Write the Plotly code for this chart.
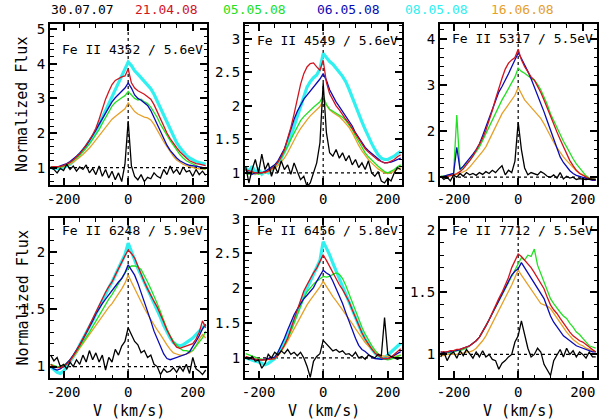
import plotly.graph_objects as go
from plotly.subplots import make_subplots

# velocity grid (km/s), same for every panel
V = list(range(-240, 250, 10))

DATES = ["30.07.07", "21.04.08", "05.05.08", "06.05.08", "08.05.08", "16.06.08"]
DATE_COLORS = ["#000000", "#d2141e", "#22e022", "#0a0ab4", "#30f0f0", "#e6a028"]
LABELS = ["Fe II 4352 / 5.6eV", "Fe II 4549 / 5.6eV", "Fe II 5317 / 5.5eV",
          "Fe II 6248 / 5.9eV", "Fe II 6456 / 5.8eV", "Fe II 7712 / 5.5eV"]
YRANGES = [[0.5, 5.15], [0.82, 3.22], [0.83, 4.33], [0.9, 2.3], [0.71, 3.01], [0.81, 2.1]]
YDTICK = [1, 0.5, 1, 0.5, 0.5, 0.5]
YMINOR = [0.2, 0.1, 0.2, 0.1, 0.1, 0.1]
XTICKS = [-200, 0, 200]
XTICK_TEXT = ["-200", "0", "200"]

# ---- Fe II 4352
p1_cyan = [1.00, 0.98, 0.97, 0.98, 1.00, 1.05, 1.10, 1.18, 1.28, 1.38,
           1.50, 1.62, 1.75, 1.90, 2.05, 2.25, 2.45, 2.65, 2.85, 3.05,
           3.25, 3.45, 3.60, 3.80, 4.05, 3.95, 3.80, 3.70, 3.60, 3.50,
           3.38, 3.28, 3.12, 2.92, 2.70, 2.50, 2.30, 2.10, 1.90, 1.72,
           1.58, 1.45, 1.35, 1.28, 1.22, 1.18, 1.15, 1.12, 1.10]
p1_red = [1.02, 1.02, 1.03, 1.04, 1.06, 1.10, 1.15, 1.22, 1.30, 1.40,
          1.52, 1.65, 1.80, 1.95, 2.14, 2.40, 2.70, 2.98, 3.20, 3.40,
          3.52, 3.58, 3.62, 3.65, 3.85, 3.45, 3.30, 3.22, 3.18, 3.12,
          3.05, 2.98, 2.82, 2.62, 2.40, 2.18, 2.00, 1.84, 1.70, 1.58,
          1.46, 1.36, 1.28, 1.20, 1.15, 1.12, 1.10, 1.08, 1.06]
p1_blue = [1.00, 1.00, 1.02, 1.05, 1.08, 1.12, 1.18, 1.25, 1.33, 1.42,
           1.52, 1.64, 1.78, 1.92, 2.08, 2.25, 2.42, 2.58, 2.75, 2.90,
           3.02, 3.12, 3.20, 3.30, 3.45, 3.30, 3.10, 3.00, 2.95, 2.88,
           2.80, 2.65, 2.45, 2.25, 2.02, 1.82, 1.65, 1.50, 1.38, 1.28,
           1.20, 1.14, 1.10, 1.07, 1.05, 1.03, 1.02, 1.01, 1.00]
p1_green = [1.02, 1.00, 1.00, 1.02, 1.05, 1.08, 1.14, 1.20, 1.28, 1.36,
            1.46, 1.56, 1.68, 1.82, 1.95, 2.10, 2.28, 2.45, 2.62, 2.78,
            2.88, 2.96, 3.02, 3.08, 3.20, 3.10, 3.00, 2.95, 2.98, 2.90,
            2.85, 2.75, 2.60, 2.45, 2.25, 2.08, 1.92, 1.78, 1.65, 1.50,
            1.38, 1.28, 1.20, 1.15, 1.10, 1.05, 1.02, 0.98, 0.96]
p1_orange = [1.00, 1.00, 1.00, 1.01, 1.03, 1.06, 1.10, 1.16, 1.22, 1.30,
             1.38, 1.47, 1.57, 1.68, 1.80, 1.92, 2.05, 2.18, 2.30, 2.40,
             2.48, 2.55, 2.62, 2.70, 2.87, 2.75, 2.62, 2.55, 2.50, 2.46,
             2.44, 2.38, 2.25, 2.10, 1.92, 1.75, 1.60, 1.45, 1.33, 1.22,
             1.15, 1.10, 1.06, 1.03, 1.00, 0.98, 0.97, 0.97, 0.96]
p1_black = [1.00, 0.95, 0.85, 0.98, 0.92, 1.10, 0.95, 1.05, 0.90, 1.02,
            0.95, 1.08, 0.85, 0.98, 0.80, 1.05, 0.75, 0.95, 0.70, 0.90,
            0.65, 0.85, 0.60, 1.10, 2.35, 1.05, 0.75, 0.65, 0.80, 0.60,
            0.72, 0.68, 0.85, 0.75, 0.70, 0.95, 0.80, 1.05, 0.85, 0.95,
            0.80, 1.02, 0.88, 0.92, 0.75, 0.95, 0.80, 0.90, 0.78]

# ---- Fe II 4549
p2_cyan = [1.08, 1.02, 1.10, 1.00, 1.05, 0.98, 1.02, 1.00, 1.05, 1.10,
           1.15, 1.22, 1.32, 1.42, 1.55, 1.70, 1.85, 2.00, 2.15, 2.28,
           2.36, 2.42, 2.46, 2.55, 2.78, 2.72, 2.66, 2.62, 2.55, 2.50,
           2.44, 2.36, 2.25, 2.12, 1.99, 1.88, 1.76, 1.65, 1.54, 1.44,
           1.35, 1.27, 1.22, 1.20, 1.20, 1.22, 1.25, 1.29, 1.32]
p2_red = [1.05, 1.03, 1.02, 1.00, 1.00, 1.00, 1.01, 1.03, 1.06, 1.10,
          1.16, 1.24, 1.35, 1.50, 1.68, 1.88, 2.10, 2.32, 2.48, 2.58,
          2.63, 2.64, 2.58, 2.53, 2.68, 2.35, 2.18, 2.08, 2.00, 1.94,
          1.86, 1.80, 1.74, 1.66, 1.58, 1.50, 1.43, 1.36, 1.31, 1.27,
          1.22, 1.19, 1.17, 1.15, 1.15, 1.17, 1.20, 1.24, 1.27]
p2_blue = [1.05, 1.00, 0.98, 1.00, 1.00, 1.00, 1.02, 1.05, 1.08, 1.12,
           1.18, 1.26, 1.36, 1.50, 1.66, 1.80, 1.92, 2.02, 2.10, 2.16,
           2.22, 2.28, 2.34, 2.40, 2.48, 2.38, 2.24, 2.14, 2.06, 1.99,
           1.92, 1.85, 1.78, 1.70, 1.60, 1.52, 1.44, 1.38, 1.33, 1.29,
           1.24, 1.20, 1.17, 1.15, 1.15, 1.16, 1.18, 1.20, 1.22]
p2_green = [1.00, 0.98, 1.00, 1.00, 0.98, 1.00, 1.02, 1.04, 1.08, 1.12,
            1.16, 1.22, 1.30, 1.40, 1.50, 1.60, 1.70, 1.78, 1.84, 1.89,
            1.94, 1.98, 2.02, 2.06, 2.15, 2.02, 1.95, 1.92, 1.90, 1.87,
            1.83, 1.78, 1.72, 1.65, 1.55, 1.46, 1.38, 1.30, 1.24, 1.19,
            1.14, 1.10, 1.06, 1.02, 1.00, 1.02, 1.05, 1.09, 1.12]
p2_orange = [1.02, 1.00, 1.00, 0.98, 1.00, 1.00, 1.00, 1.02, 1.04, 1.07,
             1.11, 1.16, 1.22, 1.30, 1.40, 1.50, 1.58, 1.66, 1.73, 1.79,
             1.85, 1.90, 1.95, 1.99, 2.08, 2.00, 1.94, 1.90, 1.87, 1.84,
             1.79, 1.74, 1.68, 1.60, 1.50, 1.41, 1.33, 1.26, 1.20, 1.15,
             1.10, 1.06, 1.03, 1.00, 0.99, 1.00, 1.03, 1.06, 1.08]
p2_black = [1.10, 0.85, 1.05, 1.20, 1.00, 1.28, 1.05, 1.15, 0.95, 1.10,
            1.00, 1.18, 1.05, 1.12, 0.98, 1.15, 1.02, 0.90, 0.95, 0.80,
            0.85, 1.00, 1.15, 1.45, 2.34, 1.60, 1.30, 1.25, 1.35, 1.22,
            1.30, 1.18, 1.26, 1.12, 1.20, 1.08, 1.15, 1.05, 1.18, 1.00,
            0.95, 1.02, 0.88, 0.85, 0.92, 0.88, 1.00, 1.08, 1.05]

# ---- Fe II 5317 (no 08.05.08 spectrum)
p3_red = [1.00, 1.00, 1.02, 1.03, 1.05, 1.08, 1.12, 1.18, 1.26, 1.36,
          1.46, 1.58, 1.70, 1.85, 2.02, 2.22, 2.45, 2.70, 2.95, 3.15,
          3.35, 3.48, 3.55, 3.60, 3.78, 3.55, 3.40, 3.28, 3.18, 3.11,
          2.98, 2.84, 2.68, 2.50, 2.31, 2.14, 1.98, 1.82, 1.66, 1.51,
          1.36, 1.25, 1.15, 1.08, 1.04, 1.00, 0.97, 0.95, 0.95]
p3_blue = [1.00, 1.02, 1.04, 1.06, 1.08, 1.65, 1.17, 1.24, 1.32, 1.40,
           1.50, 1.60, 1.72, 1.90, 2.09, 2.28, 2.48, 2.68, 2.85, 2.97,
           3.10, 3.25, 3.40, 3.55, 3.70, 3.58, 3.45, 3.30, 3.14, 2.97,
           2.80, 2.62, 2.42, 2.22, 2.02, 1.80, 1.60, 1.44, 1.32, 1.22,
           1.14, 1.08, 1.04, 1.02, 1.00, 0.97, 0.95, 0.93, 0.93]
p3_green = [1.02, 1.02, 1.04, 1.05, 1.08, 2.35, 1.15, 1.22, 1.28, 1.36,
            1.45, 1.55, 1.66, 1.80, 1.95, 2.10, 2.25, 2.40, 2.54, 2.68,
            2.80, 2.92, 3.04, 3.18, 3.37, 3.30, 3.26, 3.20, 3.15, 3.11,
            3.02, 2.90, 2.75, 2.58, 2.38, 2.22, 2.06, 1.92, 1.78, 1.66,
            1.52, 1.40, 1.29, 1.20, 1.11, 1.03, 0.98, 0.95, 0.95]
p3_orange = [1.00, 1.00, 1.02, 1.03, 1.05, 1.06, 1.08, 1.11, 1.15, 1.22,
             1.30, 1.38, 1.46, 1.56, 1.66, 1.80, 1.95, 2.10, 2.25, 2.38,
             2.48, 2.58, 2.68, 2.78, 2.95, 2.80, 2.68, 2.60, 2.52, 2.46,
             2.38, 2.28, 2.16, 2.02, 1.87, 1.76, 1.64, 1.53, 1.44, 1.36,
             1.28, 1.21, 1.14, 1.09, 1.05, 1.01, 0.98, 0.95, 0.95]
p3_black = [1.02, 0.95, 1.00, 0.92, 1.05, 1.00, 1.08, 1.02, 1.10, 1.05,
            1.08, 1.04, 1.10, 1.06, 1.12, 1.08, 1.15, 1.10, 1.18, 1.25,
            1.05, 1.15, 1.10, 1.35, 2.20, 1.60, 1.20, 1.05, 1.10, 1.08,
            1.05, 1.12, 1.08, 1.02, 1.00, 1.05, 0.98, 1.10, 0.96, 1.02,
            0.98, 1.00, 0.95, 0.97, 0.96, 0.95, 0.96, 0.95, 0.95]

# ---- Fe II 6248
p4_cyan = [1.00, 0.97, 0.95, 0.94, 0.96, 1.00, 1.04, 1.08, 1.13, 1.19,
           1.24, 1.29, 1.35, 1.40, 1.46, 1.52, 1.58, 1.64, 1.69, 1.74,
           1.80, 1.86, 1.92, 1.98, 2.08, 2.00, 1.92, 1.86, 1.80, 1.74,
           1.68, 1.62, 1.56, 1.50, 1.43, 1.36, 1.30, 1.25, 1.21, 1.19,
           1.18, 1.19, 1.21, 1.23, 1.25, 1.28, 1.31, 1.35, 1.37]
p4_red = [1.02, 1.00, 0.99, 0.99, 1.00, 1.02, 1.05, 1.09, 1.14, 1.19,
          1.24, 1.30, 1.36, 1.42, 1.48, 1.54, 1.60, 1.65, 1.70, 1.74,
          1.80, 1.86, 1.92, 1.97, 2.02, 1.99, 1.95, 1.88, 1.80, 1.74,
          1.68, 1.62, 1.57, 1.52, 1.46, 1.39, 1.32, 1.26, 1.21, 1.17,
          1.16, 1.17, 1.18, 1.19, 1.20, 1.24, 1.30, 1.40, 1.34]
p4_green = [1.02, 1.01, 1.00, 1.00, 1.01, 1.03, 1.06, 1.09, 1.13, 1.17,
            1.21, 1.25, 1.30, 1.35, 1.40, 1.45, 1.50, 1.55, 1.59, 1.63,
            1.68, 1.72, 1.77, 1.82, 1.86, 1.88, 1.88, 1.87, 1.85, 1.80,
            1.74, 1.68, 1.62, 1.55, 1.48, 1.40, 1.33, 1.27, 1.22, 1.19,
            1.16, 1.14, 1.14, 1.13, 1.14, 1.18, 1.22, 1.25, 1.31]
p4_blue = [1.00, 0.98, 0.97, 0.98, 1.00, 1.03, 1.06, 1.10, 1.14, 1.19,
           1.24, 1.29, 1.34, 1.40, 1.46, 1.51, 1.55, 1.59, 1.63, 1.66,
           1.70, 1.74, 1.77, 1.82, 1.89, 1.84, 1.80, 1.73, 1.65, 1.57,
           1.48, 1.40, 1.31, 1.24, 1.17, 1.11, 1.07, 1.06, 1.07, 1.08,
           1.09, 1.10, 1.11, 1.13, 1.17, 1.22, 1.27, 1.33, 1.37]
p4_orange = [1.01, 1.00, 1.00, 1.00, 1.01, 1.03, 1.05, 1.08, 1.12, 1.17,
             1.21, 1.25, 1.29, 1.33, 1.37, 1.41, 1.45, 1.49, 1.52, 1.55,
             1.59, 1.63, 1.68, 1.73, 1.80, 1.74, 1.68, 1.62, 1.56, 1.51,
             1.46, 1.41, 1.37, 1.32, 1.28, 1.23, 1.19, 1.15, 1.12, 1.11,
             1.10, 1.10, 1.11, 1.12, 1.14, 1.18, 1.24, 1.28, 1.25]
p4_black = [1.10, 1.05, 1.08, 1.00, 1.02, 0.98, 1.04, 1.00, 1.06, 1.02,
            1.10, 1.04, 1.14, 1.06, 1.12, 1.04, 1.10, 0.97, 1.08, 1.04,
            1.15, 1.10, 1.18, 1.22, 1.34, 1.28, 1.22, 1.19, 1.12, 1.14,
            1.08, 1.10, 1.02, 1.00, 0.93, 0.98, 0.95, 0.96, 0.99, 0.95,
            1.00, 0.96, 1.02, 0.94, 1.08, 0.98, 0.96, 0.93, 0.97]

# ---- Fe II 6456
p5_cyan = [1.00, 0.98, 0.97, 0.95, 0.94, 0.92, 0.90, 0.92, 0.95, 0.99,
           1.06, 1.14, 1.22, 1.32, 1.42, 1.54, 1.66, 1.78, 1.90, 2.00,
           2.10, 2.20, 2.29, 2.40, 2.67, 2.58, 2.48, 2.36, 2.25, 2.14,
           2.02, 1.90, 1.79, 1.68, 1.57, 1.46, 1.36, 1.27, 1.19, 1.13,
           1.07, 1.02, 0.99, 1.00, 1.04, 1.08, 1.12, 1.17, 1.21]
p5_red = [1.02, 1.00, 0.99, 0.98, 0.97, 0.97, 0.97, 0.98, 0.98, 0.99,
          1.04, 1.10, 1.18, 1.28, 1.42, 1.56, 1.70, 1.84, 1.96, 2.05,
          2.14, 2.22, 2.29, 2.38, 2.48, 2.40, 2.31, 2.22, 2.13, 2.05,
          1.98, 1.90, 1.81, 1.69, 1.57, 1.46, 1.36, 1.27, 1.19, 1.13,
          1.07, 1.03, 1.00, 0.99, 0.99, 1.01, 1.05, 1.09, 1.13]
p5_green = [1.06, 1.04, 1.02, 1.00, 0.99, 0.98, 0.97, 0.98, 0.98, 0.99,
            1.04, 1.10, 1.18, 1.27, 1.38, 1.50, 1.62, 1.74, 1.86, 1.95,
            2.01, 2.06, 2.10, 2.14, 2.17, 2.16, 2.17, 2.20, 2.22, 2.20,
            2.14, 2.04, 1.92, 1.79, 1.66, 1.55, 1.44, 1.34, 1.25, 1.18,
            1.11, 1.05, 1.00, 0.98, 0.97, 0.98, 1.00, 1.02, 1.04]
p5_blue = [1.00, 0.99, 0.98, 0.97, 0.97, 0.97, 0.98, 0.99, 1.00, 1.01,
           1.08, 1.17, 1.28, 1.40, 1.52, 1.62, 1.70, 1.78, 1.85, 1.90,
           1.96, 2.01, 2.10, 2.18, 2.26, 2.22, 2.19, 2.10, 2.00, 1.90,
           1.78, 1.65, 1.52, 1.40, 1.28, 1.18, 1.12, 1.09, 1.05, 1.01,
           0.99, 0.98, 0.98, 0.99, 0.99, 1.01, 1.04, 1.07, 1.09]
p5_orange = [1.00, 0.99, 0.98, 0.97, 0.96, 0.96, 0.97, 0.97, 0.98, 0.99,
             1.03, 1.09, 1.16, 1.24, 1.33, 1.42, 1.51, 1.60, 1.68, 1.76,
             1.83, 1.89, 1.95, 2.02, 2.10, 2.02, 1.95, 1.88, 1.82, 1.76,
             1.69, 1.62, 1.56, 1.49, 1.42, 1.35, 1.28, 1.22, 1.17, 1.13,
             1.09, 1.06, 1.03, 1.02, 1.01, 1.01, 1.02, 1.03, 1.04]
p5_black = [1.00, 0.98, 1.02, 0.95, 0.97, 0.85, 0.92, 1.05, 1.00, 1.08,
            1.04, 1.10, 1.06, 1.12, 1.05, 1.08, 1.03, 1.08, 1.00, 0.88,
            0.72, 0.95, 1.02, 1.06, 1.25, 1.20, 1.15, 1.10, 1.12, 1.08,
            1.10, 1.05, 1.06, 1.02, 1.08, 1.00, 1.02, 0.98, 1.04, 1.02,
            1.00, 1.05, 1.03, 1.58, 1.05, 1.02, 1.00, 0.98, 1.00]

# ---- Fe II 7712 (no 08.05.08 spectrum)
p6_red = [1.02, 1.02, 1.02, 1.03, 1.03, 1.04, 1.04, 1.05, 1.06, 1.07,
          1.09, 1.11, 1.14, 1.18, 1.23, 1.28, 1.34, 1.40, 1.45, 1.50,
          1.56, 1.62, 1.70, 1.76, 1.81, 1.79, 1.76, 1.73, 1.70, 1.66,
          1.62, 1.58, 1.53, 1.46, 1.40, 1.36, 1.33, 1.29, 1.25, 1.21,
          1.18, 1.15, 1.13, 1.11, 1.10, 1.08, 1.06, 1.04, 1.02]
p6_green = [1.01, 1.00, 1.02, 1.01, 1.02, 1.03, 1.03, 1.04, 1.05, 1.07,
            1.09, 1.11, 1.14, 1.18, 1.23, 1.28, 1.33, 1.38, 1.43, 1.48,
            1.53, 1.58, 1.64, 1.69, 1.74, 1.78, 1.76, 1.80, 1.79, 1.85,
            1.72, 1.65, 1.58, 1.51, 1.45, 1.41, 1.37, 1.34, 1.31, 1.29,
            1.25, 1.22, 1.18, 1.16, 1.13, 1.10, 1.07, 1.06, 1.05]
p6_blue = [1.02, 1.01, 1.02, 1.02, 1.03, 1.03, 1.04, 1.05, 1.06, 1.07,
           1.09, 1.11, 1.14, 1.18, 1.23, 1.28, 1.33, 1.38, 1.43, 1.48,
           1.53, 1.58, 1.64, 1.67, 1.69, 1.74, 1.70, 1.66, 1.62, 1.58,
           1.54, 1.50, 1.45, 1.38, 1.31, 1.26, 1.22, 1.18, 1.15, 1.13,
           1.11, 1.09, 1.07, 1.06, 1.05, 1.04, 1.03, 1.02, 1.02]
p6_orange = [0.99, 0.99, 1.00, 1.00, 1.00, 1.00, 1.01, 1.01, 1.02, 1.02,
             1.03, 1.05, 1.08, 1.11, 1.15, 1.20, 1.25, 1.30, 1.35, 1.40,
             1.45, 1.50, 1.56, 1.62, 1.68, 1.64, 1.60, 1.56, 1.52, 1.48,
             1.44, 1.41, 1.40, 1.39, 1.37, 1.33, 1.29, 1.25, 1.21, 1.18,
             1.15, 1.12, 1.10, 1.08, 1.07, 1.05, 1.04, 1.03, 1.02]
p6_black = [0.98, 1.02, 0.95, 1.00, 1.02, 0.97, 1.03, 0.99, 1.04, 1.00,
            0.97, 1.02, 0.98, 1.03, 0.98, 1.00, 0.96, 0.95, 0.88, 0.93,
            0.95, 0.98, 1.00, 1.10, 1.15, 1.27, 1.15, 1.05, 0.98, 1.00,
            1.05, 1.02, 0.92, 0.88, 0.83, 0.95, 1.00, 1.04, 0.98, 1.05,
            1.00, 1.03, 0.98, 1.02, 1.00, 0.97, 1.02, 0.98, 0.98]

PANELS = [
    [("cyan", p1_cyan), ("orange", p1_orange), ("green", p1_green), ("blue", p1_blue), ("red", p1_red), ("black", p1_black)],
    [("cyan", p2_cyan), ("orange", p2_orange), ("green", p2_green), ("blue", p2_blue), ("red", p2_red), ("black", p2_black)],
    [("orange", p3_orange), ("green", p3_green), ("blue", p3_blue), ("red", p3_red), ("black", p3_black)],
    [("cyan", p4_cyan), ("orange", p4_orange), ("green", p4_green), ("blue", p4_blue), ("red", p4_red), ("black", p4_black)],
    [("cyan", p5_cyan), ("orange", p5_orange), ("green", p5_green), ("blue", p5_blue), ("red", p5_red), ("black", p5_black)],
    [("orange", p6_orange), ("green", p6_green), ("blue", p6_blue), ("red", p6_red), ("black", p6_black)],
]

COLORS = {"black": "#000000", "red": "#d2141e", "green": "#22e022",
          "blue": "#0a0ab4", "cyan": "#30f0f0", "orange": "#e6a028"}
WIDTHS = {"cyan": 3.2}

FONT = "DejaVu Sans Mono"
W, H = 600, 419
# panel frames in pixels
COLS_PX = [(50, 207), (245, 402), (440, 597)]
ROWS_PX = [(24, 185), (218, 378)]
LABEL_Y = [0.84, 0.90, 0.907, 0.925, 0.925, 0.925]

fig = make_subplots(rows=2, cols=3)

for i, curves in enumerate(PANELS):
    r, c = i // 3 + 1, i % 3 + 1
    for name, y in curves:
        fig.add_trace(go.Scatter(x=V, y=y, mode="lines", showlegend=False,
                                 line=dict(color=COLORS[name], width=WIDTHS.get(name, 1.3))),
                      row=r, col=c)
    fig.add_vline(x=0, line=dict(color="black", width=1.2, dash="dot"), layer="below", row=r, col=c)
    fig.add_hline(y=1, line=dict(color="black", width=1.2, dash="dot"), layer="below", row=r, col=c)

    x0, x1 = COLS_PX[c - 1]
    y0, y1 = ROWS_PX[r - 1]
    fig.update_xaxes(domain=[x0 / W, x1 / W], range=[-242, 244], automargin=False,
                     tickmode="array", tickvals=XTICKS, ticktext=XTICK_TEXT,
                     ticks="inside", ticklen=7, tickwidth=1.5, tickcolor="black",
                     minor=dict(tickmode="linear", tick0=0, dtick=50, ticks="inside", ticklen=3.5, tickwidth=1.2, tickcolor="black"),
                     showline=True, linewidth=2, linecolor="black", mirror="allticks",
                     showgrid=False, zeroline=False,
                     tickfont=dict(family=FONT, size=14, color="black"), row=r, col=c)
    fig.update_yaxes(domain=[1 - y1 / H, 1 - y0 / H], range=YRANGES[i], automargin=False,
                     tick0=0, dtick=YDTICK[i],
                     ticks="inside", ticklen=7, tickwidth=1.5, tickcolor="black",
                     minor=dict(dtick=YMINOR[i], ticks="inside", ticklen=3.5, tickwidth=1.2, tickcolor="black"),
                     showline=True, linewidth=2, linecolor="black", mirror="allticks",
                     showgrid=False, zeroline=False,
                     tickfont=dict(family=FONT, size=14, color="black"), row=r, col=c)

    n = "" if i == 0 else str(i + 1)
    fig.add_annotation(text=LABELS[i], xref=f"x{n} domain", yref=f"y{n} domain",
                       x=0.064, y=LABEL_Y[i], xanchor="left", yanchor="middle", showarrow=False,
                       font=dict(family=FONT, size=13, color="black"))

# axis titles, placed relative to the panel frames
for n in ["", "4"]:
    fig.add_annotation(text="Normalized Flux", xref=f"x{n} domain", yref=f"y{n} domain",
                       x=-0.175, y=0.5, xanchor="center", yanchor="middle",
                       textangle=-90, showarrow=False,
                       font=dict(family=FONT, size=15, color="black"))
for n in ["4", "5", "6"]:
    fig.add_annotation(text="V (km/s)", xref=f"x{n} domain", yref=f"y{n} domain",
                       x=0.5, y=-0.205, xanchor="center", yanchor="middle", showarrow=False,
                       font=dict(family=FONT, size=15, color="black"))

# date legend along the top (positions in panel-1 frame units)
DATE_X = [82, 166, 254, 348, 436, 522]
for d, col, xp in zip(DATES, DATE_COLORS, DATE_X):
    fig.add_annotation(text=d, xref="x domain", yref="y domain",
                       x=(xp - 50) / 157, y=(185 - 10) / 161,
                       xanchor="center", yanchor="middle",
                       showarrow=False, font=dict(family=FONT, size=13, color=col))

fig.update_layout(width=W, height=H, autosize=False, margin=dict(l=0, r=0, t=0, b=0),
                  plot_bgcolor="white", paper_bgcolor="white")
fig.write_html("out.html", config={"displayModeBar": False},
               post_script="document.body.style.margin='0';")
